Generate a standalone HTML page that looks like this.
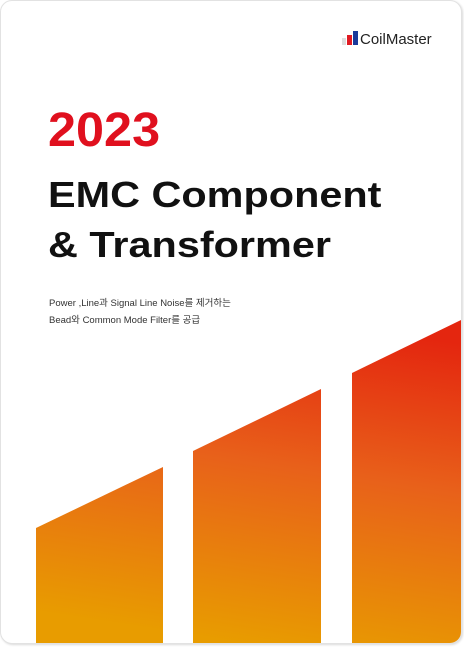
<!DOCTYPE html>
<html><head><meta charset="utf-8"><style>
html,body{margin:0;padding:0;background:#fff;}
body{width:464px;height:647px;position:relative;overflow:hidden;font-family:"Liberation Sans","Noto Sans CJK KR",sans-serif;}
.card{position:absolute;left:0;top:0;width:462px;height:644px;border-radius:12px;border:1px solid #e2e2e2;box-sizing:border-box;box-shadow:1px 1px 2px rgba(0,0,0,0.15);overflow:hidden;background:#fff;}
.t{position:absolute;left:47px;font-weight:bold;color:#111;transform-origin:0 0;white-space:nowrap;line-height:1;}
</style></head><body>
<div class="card">
<svg width="462" height="644" style="position:absolute;left:0;top:0">
<defs><linearGradient id="g" gradientUnits="userSpaceOnUse" x1="300" y1="318" x2="250" y2="644">
<stop offset="0" stop-color="#e4260f"/><stop offset="0.45" stop-color="#e8611a"/><stop offset="1" stop-color="#e89c00"/></linearGradient></defs>
<polygon points="35,527 162,466 162,644 35,644" fill="url(#g)"/>
<polygon points="192,450 320,388 320,644 192,644" fill="url(#g)"/>
<polygon points="351,372 462,318 462,644 351,644" fill="url(#g)"/>
<rect x="341" y="37" width="4" height="7" fill="#ddd"/>
<rect x="346" y="34" width="5" height="10" fill="#e01a22"/>
<rect x="352" y="30" width="5" height="14" fill="#1a3a9a"/>
</svg>
<div style="position:absolute;left:359px;top:30px;font-size:15px;color:#222;">CoilMaster</div>
<div class="t" style="top:106px;font-size:48px;color:#e0101e;transform:scaleX(1.05);">2023</div>
<div class="t" style="top:176px;font-size:36px;transform:scaleX(1.15);">EMC Component</div>
<div class="t" style="top:226px;font-size:36px;transform:scaleX(1.15);">&amp; Transformer</div>
<div style="position:absolute;left:48px;top:294px;font-size:9.5px;color:#333;line-height:17px;">Power ,Line과 Signal Line Noise를 제거하는<br>Bead와 Common Mode Filter를 공급</div>
</div>
</body></html>
